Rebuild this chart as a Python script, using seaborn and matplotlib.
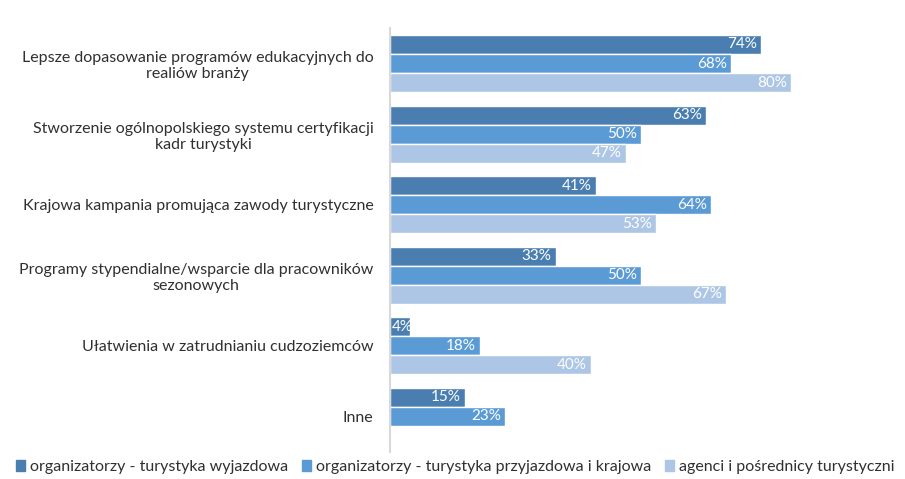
import pandas as pd
import numpy as np
import matplotlib.pyplot as plt
import seaborn as sns

categories = [
    "Lepsze dopasowanie programów edukacyjnych do\nrealiów branży",
    "Stworzenie ogólnopolskiego systemu certyfikacji\nkadr turystyki",
    "Krajowa kampania promująca zawody turystyczne",
    "Programy stypendialne/wsparcie dla pracowników\nsezonowych",
    "Ułatwienia w zatrudnianiu cudzoziemców",
    "Inne",
]
series = [
    "organizatorzy - turystyka wyjazdowa",
    "organizatorzy - turystyka przyjazdowa i krajowa",
    "agenci i pośrednicy turystyczni",
]
wyjazdowa = [74, 63, 41, 33, 4, 15]
przyjazdowa = [68, 50, 64, 50, 18, 23]
agenci = [80, 47, 53, 67, 40, np.nan]
colors = ["#4A7EB0", "#5B9BD5", "#ADC6E5"]

rows = []
for name, vals in zip(series, [wyjazdowa, przyjazdowa, agenci]):
    for cat, v in zip(categories, vals):
        rows.append({"kategoria": cat, "grupa": name, "wartosc": v})
df = pd.DataFrame(rows)

sns.set_style("white")
plt.rcParams["font.family"] = ["Lato", "DejaVu Sans"]

fig = plt.figure(figsize=(9.05, 4.79), dpi=100)
ax = fig.add_axes([0.431, 0.057, 0.554, 0.884])

sns.barplot(data=df, y="kategoria", x="wartosc", hue="grupa",
            order=categories, hue_order=series, palette=colors,
            orient="h", width=0.81, saturation=1, ax=ax, legend=False)

ax.set_xlim(0, 100)
ax.set_ylim(5.5, -0.5)

# etykiety wartości wewnątrz słupków (małe wartości wychodzą poza słupek)
for cont in ax.containers:
    for patch, v in zip(cont.patches, cont.datavalues):
        if np.isnan(v):
            continue
        y = patch.get_y() + patch.get_height() / 2
        if v < 8:
            ax.annotate(f"{v:.0f}%", (0, y), xytext=(1, 0),
                        textcoords="offset points", ha="left", va="center",
                        color="white", fontsize=11)
        else:
            ax.annotate(f"{v:.0f}%", (v, y), xytext=(-3, 0),
                        textcoords="offset points", ha="right", va="center",
                        color="white", fontsize=11)

ax.set_xlabel("")
ax.set_ylabel("")
ax.set_xticks([])
for s in ["top", "right", "bottom"]:
    ax.spines[s].set_visible(False)
ax.spines["left"].set_color("#D9D9D9")
ax.spines["left"].set_linewidth(1.5)
ax.tick_params(axis="y", length=0, pad=12, labelsize=11.5, labelcolor="#303030")
for t in ax.get_yticklabels():
    t.set_multialignment("center")

handles = [plt.Rectangle((0, 0), 1, 1, color=c) for c in colors]
fig.legend(handles, series, loc="center", bbox_to_anchor=(0.503, 0.025),
           ncol=3, frameon=False, fontsize=11.5, handlelength=0.55,
           handleheight=0.7, handletextpad=0.3, columnspacing=0.9,
           labelcolor="#303030")

fig.savefig("out.png", dpi=100)
